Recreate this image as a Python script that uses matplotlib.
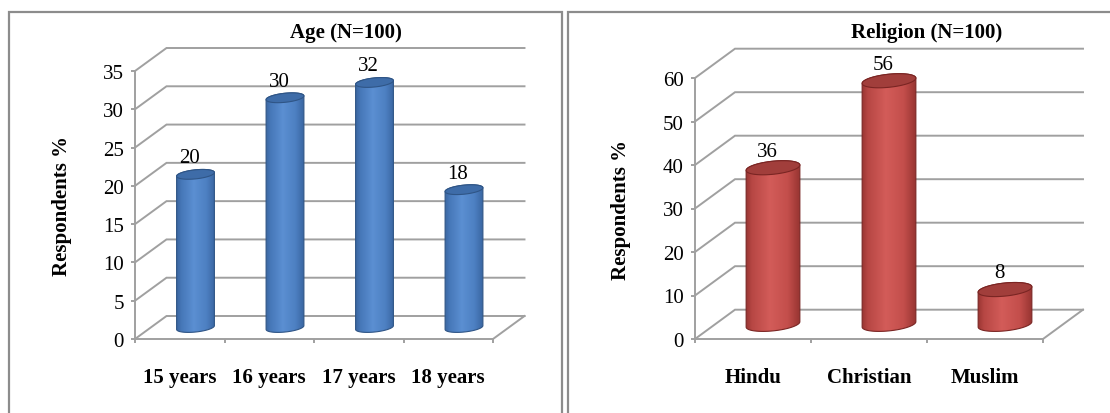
import numpy as np
import matplotlib.pyplot as plt
from matplotlib.colors import LinearSegmentedColormap
from matplotlib.patches import Polygon, Rectangle

plt.rcParams["font.family"] = ["Liberation Serif", "DejaVu Serif"]
plt.rcParams["font.size"] = 15

# data
age_groups = ["15 years", "16 years", "17 years", "18 years"]
age_pct = [20, 30, 32, 18]
age_ticks = [0, 5, 10, 15, 20, 25, 30, 35]

religions = ["Hindu", "Christian", "Muslim"]
religion_pct = [36, 56, 8]
religion_ticks = [0, 10, 20, 30, 40, 50, 60]

W, H = 1110, 414
GRID = "#a0a0a0"

blue_cmap = LinearSegmentedColormap.from_list(
    "cyl_blue", [(0, "#365f96"), (0.15, "#4677b8"), (0.45, "#5b8fd2"),
                 (0.75, "#4d80c2"), (1, "#35609a")])
red_cmap = LinearSegmentedColormap.from_list(
    "cyl_red", [(0, "#8a2d2a"), (0.15, "#b74744"), (0.45, "#d35c59"),
                (0.75, "#c34e4b"), (1, "#8c2e2b")])

fig = plt.figure(figsize=(W / 100, H / 100), dpi=100)


def cylinder(ax, xc, base, val, half_w, half_h, sx, sy, cmap, top_color, edge_color):
    """ one 3-D looking cylinder, sizes in pixels, position in data units """
    rot = np.deg2rad(6)

    def ring(yc, t):
        ex = half_w * np.cos(t)
        ey = half_h * np.sin(t)
        px = ex * np.cos(rot) - ey * np.sin(rot)
        py = ex * np.sin(rot) + ey * np.cos(rot)
        return xc + px / sx, yc + py / sy

    bx, by = ring(base, np.linspace(np.pi, 2 * np.pi, 60))
    tx, ty = ring(base + val, np.linspace(0, np.pi, 60))
    body = Polygon(np.column_stack([np.r_[bx, tx], np.r_[by, ty]]), closed=True,
                   facecolor="none", edgecolor=edge_color, lw=0.8, zorder=4,
                   clip_on=False)
    ax.add_patch(body)

    grad = np.linspace(0, 1, 256)[None, :]
    img = ax.imshow(grad, cmap=cmap, aspect="auto", interpolation="bilinear",
                    extent=[xc - 1.1 * half_w / sx, xc + 1.1 * half_w / sx,
                            base - 2 * half_h / sy, base + val + 2 * half_h / sy],
                    zorder=3)
    img.set_clip_box(None)
    img.set_clip_path(body)

    ex, ey = ring(base + val, np.linspace(0, 2 * np.pi, 120))
    ax.add_patch(Polygon(np.column_stack([ex, ey]), closed=True, facecolor=top_color,
                         edgecolor=edge_color, lw=0.8, zorder=5, clip_on=False))


def panel(box, cats, vals, ticks, depth_px, bar_w, ell_h, cmap, top_color,
          edge_color, title, title_x, ylabel_x):
    x0, x1, y_bot, y_top = box
    ax = fig.add_axes([x0 / W, 1 - y_bot / H, (x1 - x0) / W, (y_bot - y_top) / H])
    n = len(cats)
    ymax = ticks[-1]
    sx = (x1 - x0) / n
    sy = (y_bot - y_top) / ymax
    dx = depth_px[0] / sx
    dy = depth_px[1] / sy

    # side wall diagonals + back wall gridlines
    for v in ticks:
        ax.plot([0, dx, n + dx], [v, v + dy, v + dy], color=GRID, lw=1.4,
                clip_on=False, zorder=1, solid_joinstyle="miter")
    # floor right edge
    ax.plot([n, n + dx], [0, dy], color=GRID, lw=1.4, clip_on=False, zorder=1)

    for i, v in enumerate(vals):
        xc = i + 0.5 + dx / 2
        cylinder(ax, xc, dy / 2, v, bar_w / 2, ell_h / 2, sx, sy, cmap,
                 top_color, edge_color)
        ax.annotate(str(v), (xc, v + dy / 2), xytext=(-4.3, 12),
                    textcoords="offset points", ha="center", va="center",
                    fontsize=15, zorder=6)

    ax.set_xlim(0, n)
    ax.set_ylim(0, ymax)
    ax.patch.set_visible(False)
    for s in ["top", "right"]:
        ax.spines[s].set_visible(False)
    for s in ["left", "bottom"]:
        ax.spines[s].set_color(GRID)
        ax.spines[s].set_linewidth(1.4)

    ax.set_yticks(ticks)
    ax.tick_params(axis="y", length=3, width=1.4, color=GRID, pad=5, labelsize=15)
    ax.set_xticks(range(n + 1))
    ax.set_xticklabels([""] * (n + 1))
    ax.set_xticks([i + 0.5 for i in range(n)], minor=True)
    ax.set_xticklabels(cats, minor=True, fontweight="bold", fontsize=15)
    ax.tick_params(axis="x", which="major", length=3, width=1.4, color=GRID)
    ax.tick_params(axis="x", which="minor", length=0, pad=20)

    ax.set_ylabel("Respondents %", fontweight="bold", fontsize=15)
    ax.yaxis.set_label_coords((ylabel_x + 11 - x0) / (x1 - x0), 0.5)

    ax.text((title_x - x0) / (x1 - x0), (y_bot - 33) / (y_bot - y_top), title,
            transform=ax.transAxes, ha="center", va="center",
            fontweight="bold", fontsize=15)
    return ax


# frames round each chart
fig.add_artist(Rectangle((9 / W, -10 / H), 553 / W, (414 + 10 - 13) / H,
                         transform=fig.transFigure, fill=False,
                         edgecolor="#8c8c8c", lw=1.6))
fig.add_artist(Rectangle((568 / W, -10 / H), 560 / W, (414 + 10 - 13) / H,
                         transform=fig.transFigure, fill=False,
                         edgecolor="#8c8c8c", lw=1.6))

panel((135, 493, 340, 72), age_groups, age_pct, age_ticks, (31.5, 23), 38, 9,
      blue_cmap, "#3e6ca8", "#2f5586", "Age (N=100)", 346, 61)
panel((695, 1043, 340, 79), religions, religion_pct, religion_ticks, (40, 29.3), 54, 13,
      red_cmap, "#a13e3b", "#7a2523", "Religion (N=100)", 927, 620)

fig.savefig("out.png", dpi=100)
